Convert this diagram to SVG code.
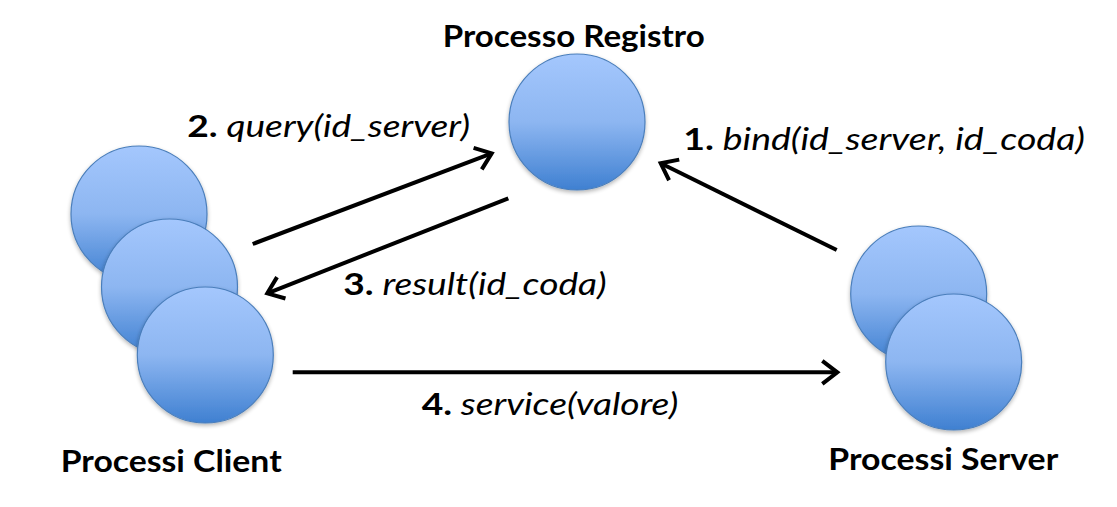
<svg xmlns="http://www.w3.org/2000/svg" width="1117" height="507" viewBox="0 0 1117 507">
  <defs>
    <linearGradient id="ballGrad" x1="0" y1="0" x2="0" y2="1">
      <stop offset="0" stop-color="#a4c7fd"/>
      <stop offset="0.5" stop-color="#8db6f1"/>
      <stop offset="1" stop-color="#3f80d1"/>
    </linearGradient>
    <filter id="shadow" x="-20%" y="-20%" width="140%" height="150%">
      <feGaussianBlur in="SourceAlpha" stdDeviation="2"/>
      <feOffset dx="0" dy="2" result="b"/>
      <feComponentTransfer><feFuncA type="linear" slope="0.3"/></feComponentTransfer>
      <feMerge><feMergeNode/><feMergeNode in="SourceGraphic"/></feMerge>
    </filter>
    <marker id="arrow" markerUnits="userSpaceOnUse" markerWidth="40" markerHeight="40" viewBox="-20 -20 40 40" refX="0" refY="0" orient="auto">
      <path d="M -15,-11.5 L 0,0 L -15,11.5" fill="none" stroke="#000" stroke-width="4" stroke-linejoin="miter" stroke-linecap="butt"/>
    </marker>
  </defs>
  <style>
    .ball { fill: url(#ballGrad); stroke: #4a7ebb; stroke-width: 1.2; }
    .title { font-family: Lato, "Open Sans", "Liberation Sans", sans-serif; font-weight: bold; font-size: 30px; fill: #000; }
    .lbl { font-family: Lato, "Open Sans", "Liberation Sans", sans-serif; font-size: 30px; fill: #000; }
    .lbl .n { font-weight: bold; font-style: normal; }
    .lbl .f { font-style: italic; }
    .conn { stroke: #000; stroke-width: 4; fill: none; marker-end: url(#arrow); }
  </style>
  <rect width="1117" height="507" fill="#ffffff"/>

  <g id="registro">
    <circle class="ball" cx="577" cy="122" r="68" filter="url(#shadow)"/>
    <text class="title" x="442.7" y="47" textLength="262" lengthAdjust="spacingAndGlyphs">Processo Registro</text>
  </g>

  <g id="client">
    <circle class="ball" cx="139" cy="214" r="68" filter="url(#shadow)"/>
    <circle class="ball" cx="169.5" cy="287" r="68" filter="url(#shadow)"/>
    <circle class="ball" cx="205.3" cy="355" r="68" filter="url(#shadow)"/>
    <text class="title" x="60.7" y="472" textLength="221" lengthAdjust="spacingAndGlyphs">Processi Client</text>
  </g>

  <g id="server">
    <circle class="ball" cx="918.7" cy="294" r="68" filter="url(#shadow)"/>
    <circle class="ball" cx="953.7" cy="362" r="68" filter="url(#shadow)"/>
    <text class="title" x="828.3" y="470" textLength="230" lengthAdjust="spacingAndGlyphs">Processi Server</text>
  </g>

  <g id="connectors">
    <line class="conn" x1="836.7" y1="250" x2="660.7" y2="163.3"/>
    <line class="conn" x1="252.7" y1="244" x2="491.7" y2="153.3"/>
    <line class="conn" x1="508.3" y1="198.3" x2="267.3" y2="293.3"/>
    <line class="conn" x1="292.7" y1="372.3" x2="837.3" y2="372.3"/>
  </g>

  <g id="labels">
    <text class="lbl" x="683.3" y="150" textLength="401.7" lengthAdjust="spacingAndGlyphs"><tspan class="n">1.</tspan><tspan class="f"> bind(id_server, id_coda)</tspan></text>
    <text class="lbl" x="187.3" y="137" textLength="282.7" lengthAdjust="spacingAndGlyphs"><tspan class="n">2.</tspan><tspan class="f"> query(id_server)</tspan></text>
    <text class="lbl" x="343.3" y="295" textLength="263.4" lengthAdjust="spacingAndGlyphs"><tspan class="n">3.</tspan><tspan class="f"> result(id_coda)</tspan></text>
    <text class="lbl" x="421.7" y="415" textLength="256.6" lengthAdjust="spacingAndGlyphs"><tspan class="n">4.</tspan><tspan class="f"> service(valore)</tspan></text>
  </g>
</svg>
